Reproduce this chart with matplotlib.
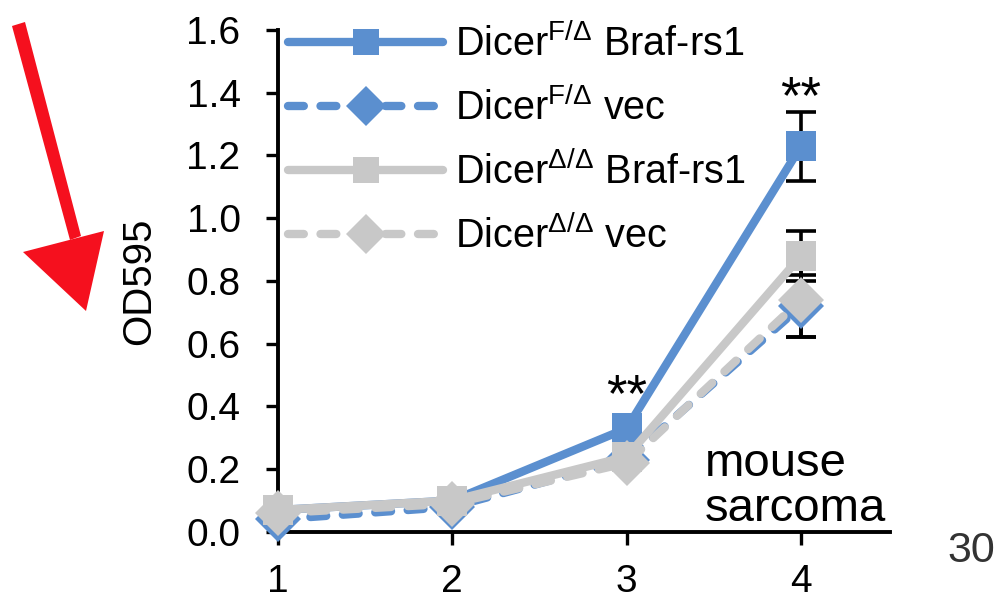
import matplotlib
matplotlib.use("Agg")
import matplotlib.pyplot as plt
from matplotlib.patches import Polygon

plt.rcParams['font.family'] = ['Liberation Sans', 'DejaVu Sans']
plt.rcParams['mathtext.fontset'] = 'custom'
plt.rcParams['mathtext.rm'] = 'Liberation Sans'
plt.rcParams['mathtext.it'] = 'Liberation Sans:italic'

# OD595 readings per day
days = [1, 2, 3, 4]
braf_fd = [0.07, 0.10, 0.33, 1.23]
vec_fd = [0.04, 0.08, 0.23, 0.72]
braf_dd = [0.07, 0.10, 0.24, 0.88]
vec_dd = [0.06, 0.09, 0.22, 0.74]

# standard error, only reported for the last day
err_braf_fd = [0, 0, 0, 0.11]
err_vec_fd = [0, 0, 0, 0.10]
err_braf_dd = [0, 0, 0, 0.08]
err_vec_dd = [0, 0, 0, 0.12]

labels = [
    'Dicer$^{\\mathrm{F/Δ}}$ Braf-rs1',
    'Dicer$^{\\mathrm{F/Δ}}$ vec',
    'Dicer$^{\\mathrm{Δ/Δ}}$ Braf-rs1',
    'Dicer$^{\\mathrm{Δ/Δ}}$ vec',
]
signif_days = [3, 4]
signif_y = [0.385, 1.335]
yticks = [0.0, 0.2, 0.4, 0.6, 0.8, 1.0, 1.2, 1.4, 1.6]

blue = '#5B8FCF'
grey = '#C8C8C8'

fig = plt.figure(figsize=(10, 5.99), dpi=100)
ax = fig.add_axes([0.278, 0.112, 0.612, 0.838])

series = [
    (braf_fd, err_braf_fd, blue, '-', 's'),
    (vec_fd, err_vec_fd, blue, '--', 'D'),
    (braf_dd, err_braf_dd, grey, '-', 's'),
    (vec_dd, err_vec_dd, grey, '--', 'D'),
]

for i, (vals, errs, col, ls, mk) in enumerate(series):
    # error bars sit underneath the markers
    ex = [d for d, e in zip(days, errs) if e > 0]
    ey = [v for v, e in zip(vals, errs) if e > 0]
    ee = [e for e in errs if e > 0]
    ax.errorbar(ex, ey, yerr=ee, fmt='none', ecolor='black', elinewidth=2.6,
                capsize=11, capthick=2.6, zorder=2, clip_on=False)
    ms = 22 if mk == 's' else 23
    line, = ax.plot(days, vals, color=col, linestyle=ls, linewidth=6,
                    marker=mk, markersize=ms, markeredgewidth=0,
                    label=labels[i], zorder=3 + i, clip_on=False,
                    solid_capstyle='round', dash_capstyle='round')
    if ls == '--':
        line.set_dashes((1.9, 2.0))

for d, y in zip(signif_days, signif_y):
    ax.text(d, y, '**', ha='center', va='baseline', fontsize=38)

ax.text(3.45, 0.145, 'mouse\nsarcoma', ha='left', va='center', fontsize=34,
        linespacing=1.05)

ax.set_xlim(1, 4.51)
ax.set_ylim(0, 1.6)
ax.set_xticks(days)
ax.set_yticks(yticks)
ax.set_yticklabels([f'{t:.1f}' for t in yticks])
ax.set_ylabel('OD595', fontsize=29, labelpad=20)

ax.spines['top'].set_visible(False)
ax.spines['right'].set_visible(False)
for side in ['left', 'bottom']:
    ax.spines[side].set_linewidth(2.8)
ax.tick_params(direction='out', length=9, width=2.4, labelsize=28)
ax.tick_params(axis='y', pad=18)
ax.tick_params(axis='x', pad=14)

leg = ax.legend(loc='upper left', bbox_to_anchor=(0.017, 1.013), frameon=False,
                fontsize=28.5, handlelength=3.9, handletextpad=0.3,
                labelspacing=0.6, borderpad=0, borderaxespad=0,
                markerscale=0.88)

fig.text(0.971, 0.08, '30', ha='center', va='center', fontsize=31, color='#333333')

# red hand-drawn style arrow on the left margin
def px(pts):
    return [(x / 1000, 1 - y / 599) for x, y in pts]

shaft = Polygon(px([(12, 26), (25, 22), (81, 236), (70, 240)]),
                closed=True, facecolor='#F5101E', edgecolor='none',
                transform=fig.transFigure)
head = Polygon(px([(23, 252), (104, 231), (86, 311)]),
               closed=True, facecolor='#F5101E', edgecolor='none',
               transform=fig.transFigure)
fig.add_artist(shaft)
fig.add_artist(head)

fig.savefig('out.png', dpi=100)
